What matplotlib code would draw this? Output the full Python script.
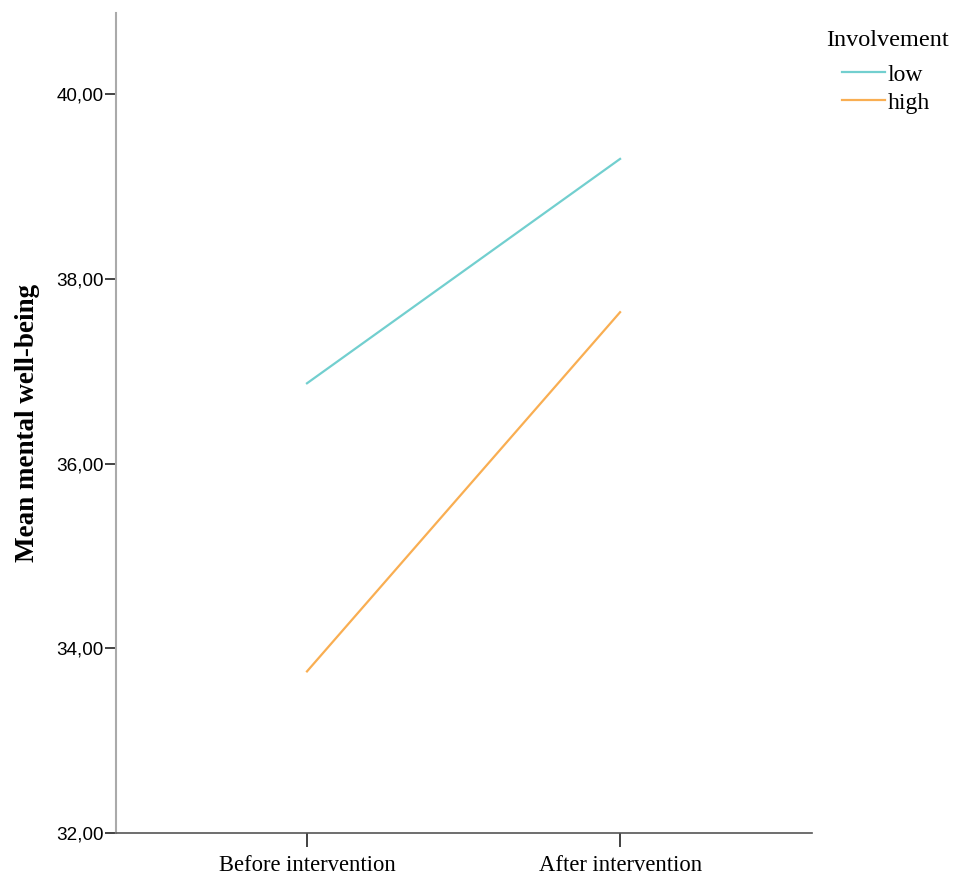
import matplotlib.pyplot as plt
import numpy as np

# data
categories = ['Before intervention', 'After intervention']
groups = ['low', 'high']
low_means = [36.87, 39.30]
high_means = [33.75, 37.64]
colors = ['#72cfcf', '#f9ae52']
y_ticks = [32, 34, 36, 38, 40]

fig = plt.figure(figsize=(9.58, 8.76), dpi=100)
ax = fig.add_axes([116 / 958, 43 / 876, (812 - 116) / 958, (833 - 13) / 876])

x = np.arange(len(categories))
for name, vals, col in zip(groups, [low_means, high_means], colors):
    ax.plot(x, vals, color=col, linewidth=1.6, label=name)

ax.set_xlim(-0.61, 1.613)
ax.set_ylim(32, 40.88)
ax.set_xticks(x)
ax.set_xticklabels(categories, fontfamily='Liberation Serif', fontsize=16.3)
ax.set_yticks(y_ticks)
ax.set_yticklabels([f'{v:.2f}'.replace('.', ',') for v in y_ticks],
                   fontfamily='Liberation Sans', fontsize=13.6)

for side in ['top', 'right']:
    ax.spines[side].set_visible(False)
ax.spines['left'].set_color('#aaaaaa')
ax.spines['left'].set_linewidth(1.5)
ax.spines['bottom'].set_color('#555555')
ax.spines['bottom'].set_linewidth(1.2)
ax.tick_params(axis='y', length=8, width=1.2, color='#222222', pad=1)
ax.tick_params(axis='x', length=10, width=1.2, color='#222222', pad=6)

ax.set_ylabel('Mean mental well-being', fontfamily='Liberation Serif',
              fontweight='bold', fontsize=19.5)
ax.yaxis.set_label_coords(-0.109, 0.5)

# legend: title as separate text so the handles can sit indented
fig.text(826 / 958, 1 - 40 / 876, 'Involvement', fontfamily='Liberation Serif',
         fontsize=17.5, ha='left', va='center')
ax.legend(loc='upper left', bbox_to_anchor=(842 / 958, 1 - 64 / 876),
          bbox_transform=fig.transFigure, frameon=False,
          borderpad=0, borderaxespad=0, handlelength=1.8,
          handletextpad=0.12, labelspacing=0.28,
          prop={'family': 'Liberation Serif', 'size': 17})

fig.savefig('out.png', dpi=100)
